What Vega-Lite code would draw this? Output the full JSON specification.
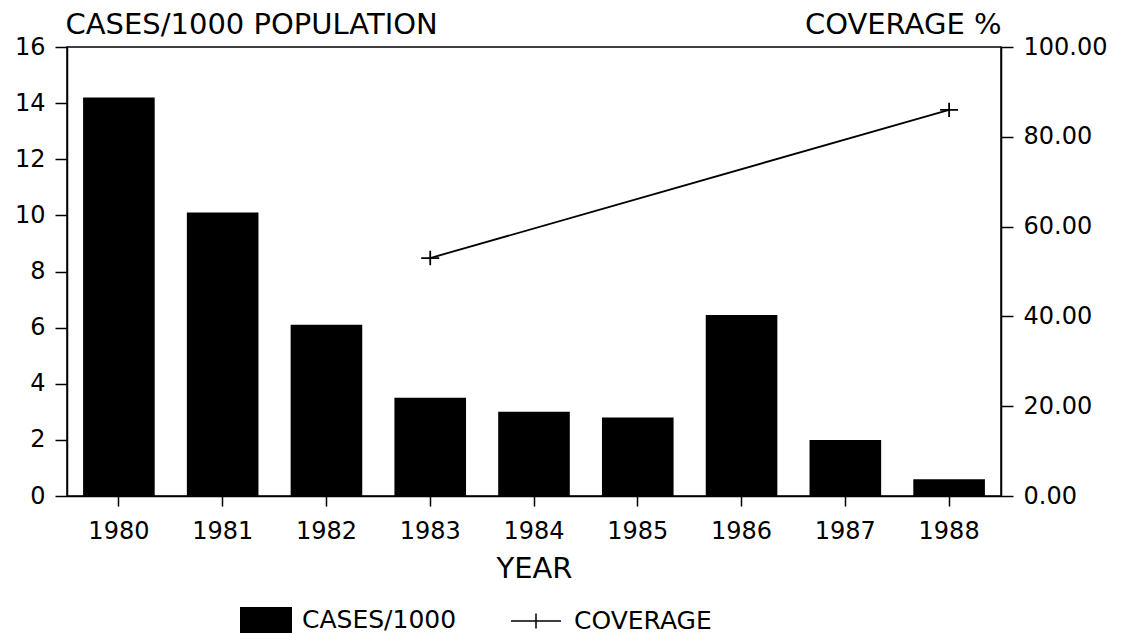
{
  "$schema": "https://vega.github.io/schema/vega-lite/v6.json",
  "width": 934,
  "height": 449,
  "autosize": {"type": "none"},
  "padding": {"left": 67, "top": 47, "right": 127, "bottom": 138},
  "background": "white",
  "config": {
    "font": "DejaVu Sans",
    "view": {"stroke": "black", "strokeWidth": 1.5},
    "axis": {
      "grid": false,
      "domainColor": "black",
      "tickColor": "black",
      "labelColor": "black",
      "titleColor": "black",
      "labelFont": "DejaVu Sans",
      "titleFont": "DejaVu Sans",
      "labelFontSize": 24,
      "titleFontWeight": "normal",
      "domainWidth": 1.5,
      "tickWidth": 1.5
    },
    "legend": {
      "labelFont": "DejaVu Sans",
      "labelFontSize": 25,
      "labelColor": "black",
      "padding": 0
    }
  },
  "data": {
    "values": [
      {"year": 1980, "measure": "CASES/1000", "value": 14.2},
      {"year": 1981, "measure": "CASES/1000", "value": 10.1},
      {"year": 1982, "measure": "CASES/1000", "value": 6.1},
      {"year": 1983, "measure": "CASES/1000", "value": 3.5},
      {"year": 1984, "measure": "CASES/1000", "value": 3.0},
      {"year": 1985, "measure": "CASES/1000", "value": 2.8},
      {"year": 1986, "measure": "CASES/1000", "value": 6.45},
      {"year": 1987, "measure": "CASES/1000", "value": 2.0},
      {"year": 1988, "measure": "CASES/1000", "value": 0.6},
      {"year": 1983, "measure": "COVERAGE", "value": 53},
      {"year": 1988, "measure": "COVERAGE", "value": 86}
    ]
  },
  "encoding": {
    "x": {
      "field": "year",
      "type": "ordinal",
      "scale": {"paddingInner": 0.31, "paddingOuter": 0.155},
      "axis": {
        "title": "YEAR",
        "titleFontSize": 29,
        "titleY": 81,
        "titleBaseline": "alphabetic",
        "labelAngle": 0,
        "tickSize": 10,
        "labelPadding": 13,
        "domain": true
      }
    }
  },
  "layer": [
    {
      "transform": [{"filter": "datum.measure == 'CASES/1000'"}],
      "mark": {"type": "bar", "stroke": null},
      "encoding": {
        "y": {
          "field": "value",
          "type": "quantitative",
          "scale": {"domain": [0, 16], "nice": false},
          "axis": {
            "orient": "left",
            "values": [0, 2, 4, 6, 8, 10, 12, 14, 16],
            "title": "CASES/1000 POPULATION",
            "titleAngle": 0,
            "titleAlign": "left",
            "titleBaseline": "alphabetic",
            "titleX": -2,
            "titleY": -14,
            "titleFontSize": 29,
            "tickSize": 12,
            "labelPadding": 10
          }
        },
        "fill": {
          "field": "measure",
          "type": "nominal",
          "scale": {"range": ["black"]},
          "legend": {
            "orient": "none",
            "legendX": 173,
            "legendY": 547,
            "title": null,
            "symbolType": "M-1,-0.5H1V0.5H-1Z",
            "symbolSize": 2704,
            "symbolStrokeWidth": 0,
            "labelOffset": 10
          }
        }
      }
    },
    {
      "transform": [{"filter": "datum.measure == 'COVERAGE'"}],
      "encoding": {
        "y": {
          "field": "value",
          "type": "quantitative",
          "scale": {"domain": [0, 100], "nice": false},
          "axis": {
            "orient": "right",
            "values": [0, 20, 40, 60, 80, 100],
            "format": ".2f",
            "title": "COVERAGE %",
            "titleAngle": 0,
            "titleAlign": "right",
            "titleBaseline": "alphabetic",
            "titleX": 0,
            "titleY": -14,
            "titleFontSize": 29,
            "tickSize": 12,
            "labelPadding": 10
          }
        }
      },
      "layer": [
        {
          "mark": {"type": "line", "strokeWidth": 1.8},
          "encoding": {
            "stroke": {
              "field": "measure",
              "type": "nominal",
              "scale": {"range": ["black"]},
              "legend": {
                "orient": "none",
                "legendX": 443,
                "legendY": 548,
                "title": null,
                "symbolType": "M-1,0H1M0,-0.3V0.3",
                "symbolSize": 2500,
                "symbolStrokeWidth": 1.5,
                "symbolFillColor": "transparent",
                "symbolStrokeColor": "black",
                "labelOffset": 12
              }
            }
          }
        },
        {
          "mark": {
            "type": "point",
            "shape": "M-1,0H1M0,-0.8V0.8",
            "size": 324,
            "filled": false,
            "stroke": "black",
            "strokeWidth": 1.8,
            "opacity": 1
          },
          "encoding": {}
        }
      ]
    }
  ],
  "resolve": {"scale": {"y": "independent"}}
}
